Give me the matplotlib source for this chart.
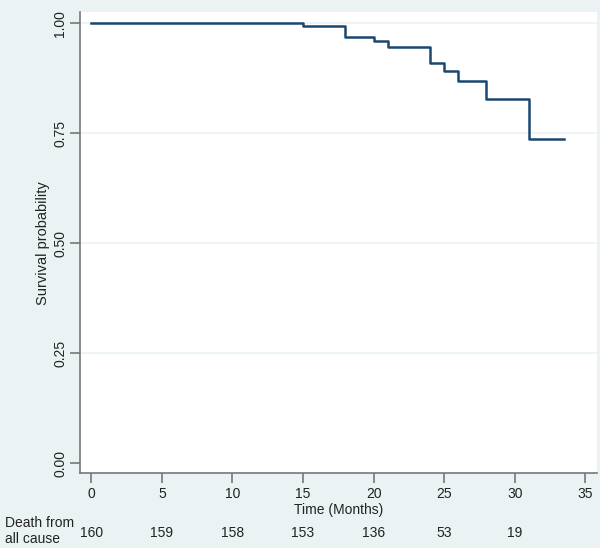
import matplotlib
matplotlib.use("Agg")
import matplotlib.pyplot as plt
import matplotlib.transforms as mtransforms

plt.rcParams['font.family'] = ['Liberation Sans', 'DejaVu Sans']

# Kaplan-Meier estimate
time = [0, 15, 18, 20, 21, 24, 25, 26, 28, 31, 33.5]
survival = [1.0, 0.994, 0.968, 0.960, 0.947, 0.910, 0.892, 0.869, 0.828, 0.736, 0.736]

# number at risk table
risk_times = [0, 5, 10, 15, 20, 25, 30]
at_risk = [160, 159, 158, 153, 136, 53, 19]
risk_label = "Death from\nall cause"

x_ticks = [0, 5, 10, 15, 20, 25, 30, 35]
y_ticks = [0.0, 0.25, 0.5, 0.75, 1.0]

bg = '#eaf2f3'
navy = '#1a476f'
axis_col = '#777777'

fig = plt.figure(figsize=(6, 5.48), dpi=100, facecolor=bg)
ax = fig.add_axes([0.1328, 0.1363, 0.8627, 0.8417])
ax.set_facecolor('white')

ax.plot(time, survival, drawstyle='steps-post', color=navy, lw=1.8, zorder=3)

ax.set_xlim(-0.82, 35.85)
ax.set_ylim(-0.0234, 1.0257)
ax.set_xticks(x_ticks)
ax.set_yticks(y_ticks)
ax.set_yticklabels(['%.2f' % v for v in y_ticks], rotation=90, va='center')

for v in y_ticks[1:]:
    ax.axhline(v, color=bg, lw=1.2, zorder=1)

for s in ['top', 'right']:
    ax.spines[s].set_visible(False)
for s in ['left', 'bottom']:
    ax.spines[s].set_color(axis_col)
    ax.spines[s].set_linewidth(1.2)

ax.tick_params(axis='both', colors=axis_col, length=7, width=1.2, labelsize=10,
               labelcolor='#222222')
ax.tick_params(axis='x', pad=3)
ax.tick_params(axis='y', pad=2)

ax.set_xlabel('Time (Months)', fontsize=10, color='#222222', labelpad=1)
ax.set_ylabel('Survival probability', fontsize=10.5, color='#222222', labelpad=2)

trans = mtransforms.blended_transform_factory(ax.transData, fig.transFigure)
for t, n in zip(risk_times, at_risk):
    ax.text(t, 1 - 533 / 548, str(n), transform=trans, ha='center', va='center',
            fontsize=10, color='#222222', clip_on=False)
fig.text(5 / 600, 1 - 531 / 548, risk_label, ha='left', va='center',
         fontsize=10, color='#222222', linespacing=1.1)

fig.savefig('out.png', dpi=100, facecolor=bg)
